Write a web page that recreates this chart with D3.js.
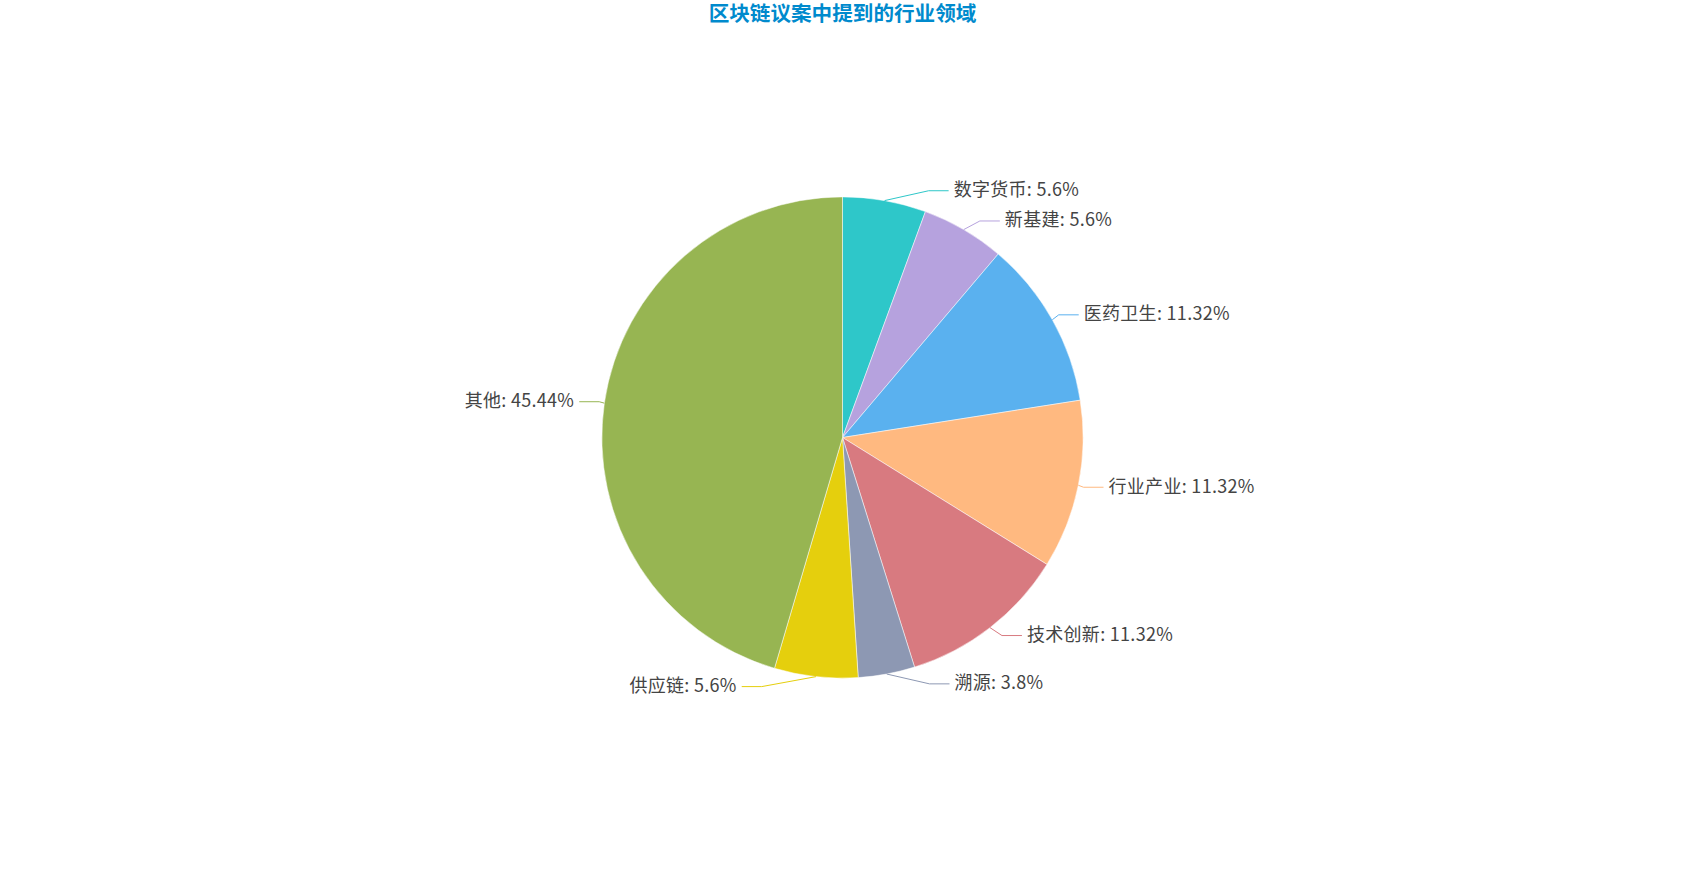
<!DOCTYPE html>
<html>
<head>
<meta charset="utf-8">
<script src="https://cdn.jsdelivr.net/npm/d3@7"></script>
<style>
    body { margin: 0; background: #fff; }
    svg { display: block; font-family: "Microsoft YaHei", "Noto Sans CJK SC", sans-serif; }
</style>
</head>
<body>
<svg id="chart" width="1685" height="875"></svg>
<script>
// chart data
var title = '区块链议案中提到的行业领域';
var categories = ['数字货币', '新基建', '医药卫生', '行业产业', '技术创新', '溯源', '供应链', '其他'];
var values = [5.6, 5.6, 11.32, 11.32, 11.32, 3.8, 5.6, 45.44];
var colors = ['#2ec7c9', '#b6a2de', '#5ab1ef', '#ffb980', '#d87a80', '#8d98b3', '#e5cf0d', '#97b552'];

var width = 1685,
    height = 875;
var cx = width / 2,
    cy = height / 2;
var r = Math.min(width, height) / 2 * 0.55; // radius 55%
var len = 10, len2 = 20, labelDist = 5, fontSize = 18;

var svg = d3.select('#chart');

// title
svg.append('text')
    .attr('x', cx)
    .attr('y', 21)
    .attr('text-anchor', 'middle')
    .attr('fill', '#008acd')
    .attr('font-size', 20.6)
    .attr('font-weight', 'bold')
    .text(title);

var data = categories.map(function(c, i) {
    return { name: c, value: values[i], color: colors[i] };
});

var pie = d3.pie().sort(null).value(function(d) { return d.value; });
var arcs = pie(data);
var arc = d3.arc().innerRadius(0).outerRadius(r);

var g = svg.append('g').attr('transform', 'translate(' + cx + ',' + cy + ')');

g.selectAll('path')
    .data(arcs)
    .enter()
    .append('path')
    .attr('d', arc)
    .attr('fill', function(d) { return d.data.color; })
    .attr('stroke', '#fff')
    .attr('stroke-width', 0.5);

// label layout: start at slice middle, then put the text on a circle (like echarts 4)
var labels = arcs.map(function(d) {
    var a = (d.startAngle + d.endAngle) / 2;
    var sx = Math.sin(a), sy = -Math.cos(a);
    var dir = sx < 0 ? -1 : 1;
    var x2 = cx + (r + len) * sx;
    return {
        d: d,
        dir: dir,
        x1: cx + r * sx,
        y1: cy + r * sy,
        x: x2 + dir * (len2 + labelDist),
        y: cy + (r + len) * sy,
        h: fontSize + 6
    };
});

function changeX(list, isDown, dir) {
    var last = isDown ? Infinity : 0;
    list.forEach(function(l) {
        var dy = Math.abs(l.y - cy), R = r + len + len2;
        var dx = dy < r + len ? Math.sqrt(R * R - dy * dy) : Math.abs(l.x - cx);
        if (isDown && dx >= last) dx = last - 10;
        if (!isDown && dx <= last) dx = last + 10;
        l.x = cx + dx * dir;
        last = dx;
    });
}

function adjustSide(list, dir) {
    list.sort(function(a, b) { return a.y - b.y; });
    for (var i = 1; i < list.length; i++) {
        var gap = list[i].y - (list[i - 1].y + list[i - 1].h);
        if (gap < 0) list[i].y -= gap;
    }
    changeX(list.filter(function(l) { return l.y < cy; }), false, dir);
    changeX(list.filter(function(l) { return l.y >= cy; }), true, dir);
}

adjustSide(labels.filter(function(l) { return l.dir > 0; }), 1);
adjustSide(labels.filter(function(l) { return l.dir < 0; }), -1);

var line = d3.line();

svg.selectAll('.label-line')
    .data(labels)
    .enter()
    .append('path')
    .attr('class', 'label-line')
    .attr('fill', 'none')
    .attr('stroke', function(l) { return l.d.data.color; })
    .attr('stroke-width', 1)
    .attr('d', function(l) {
        var x3 = l.x - l.dir * labelDist;
        return line([[l.x1, l.y1], [x3 - l.dir * len2, l.y], [x3, l.y]]);
    });

svg.selectAll('.label')
    .data(labels)
    .enter()
    .append('text')
    .attr('class', 'label')
    .attr('x', function(l) { return l.x; })
    .attr('y', function(l) { return l.y - 2.5; })
    .attr('text-anchor', function(l) { return l.dir > 0 ? 'start' : 'end'; })
    .attr('dominant-baseline', 'central')
    .attr('font-size', fontSize)
    .attr('letter-spacing', 0.3)
    .attr('fill', '#444')
    .text(function(l) { return l.d.data.name + ': ' + l.d.data.value + '%'; });
</script>
</body>
</html>
